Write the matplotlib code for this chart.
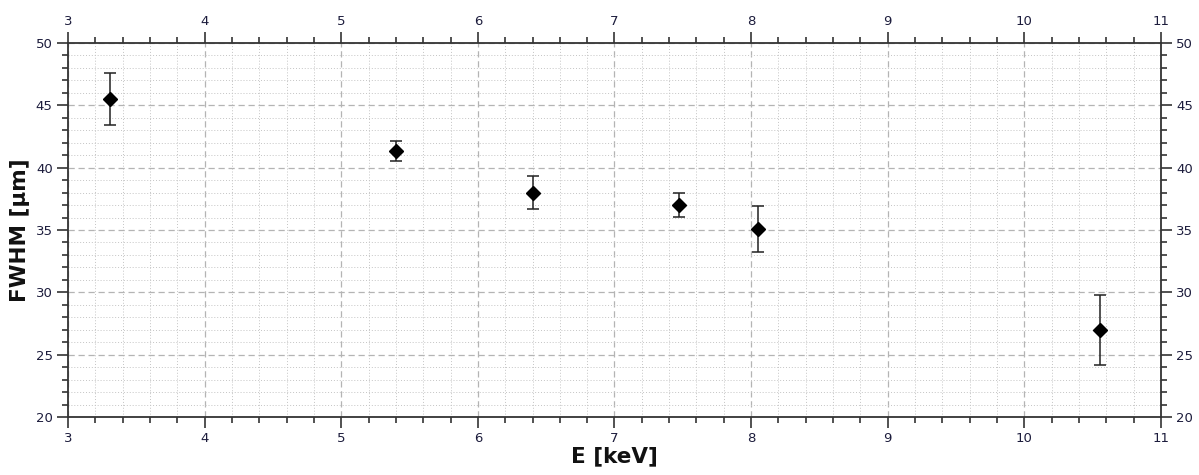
import matplotlib.pyplot as plt
from matplotlib.ticker import MultipleLocator

# measured lines: energy [keV] vs FWHM [um]
energy = [3.31, 5.40, 6.40, 7.47, 8.05, 10.55]
fwhm = [45.5, 41.3, 38.0, 37.0, 35.1, 27.0]
fwhm_err = [2.1, 0.8, 1.35, 0.95, 1.85, 2.8]

INK, TICKC, GRID = "#111111", "#1c1c3c", "#b4b4b4"

fig = plt.figure(figsize=(11.99, 4.75), dpi=100)
ax = fig.add_axes([0.0567, 0.1221, 0.9116, 0.7874])

ax.errorbar(energy, fwhm, yerr=fwhm_err, fmt="D", color="black", ms=7,
            ecolor="#222222", elinewidth=1.1, capsize=4, capthick=1.1, zorder=5)

ax.set_xlim(3, 11)
ax.set_ylim(20, 50)
ax.xaxis.set_major_locator(MultipleLocator(1))
ax.xaxis.set_minor_locator(MultipleLocator(0.2))
ax.yaxis.set_major_locator(MultipleLocator(5))
ax.yaxis.set_minor_locator(MultipleLocator(1))

ax.grid(which="major", ls=(0, (5, 3)), color=GRID, lw=0.9)
ax.grid(which="minor", ls=(0, (1, 2)), color="#c4c4c4", lw=0.7)
ax.set_axisbelow(True)

ax.tick_params(which="both", direction="out", top=True, right=True,
               labeltop=True, labelright=True, color="#333333", width=1.2,
               labelsize=9.5, labelcolor=TICKC)
ax.tick_params(which="major", length=8, pad=3)
ax.tick_params(which="minor", length=4.5)
for s in ax.spines.values():
    s.set_linewidth(1.3)
    s.set_color("#333333")

ax.set_xlabel("E [keV]", fontsize=15.5, fontweight="bold", color=INK, labelpad=1)
ax.set_ylabel("FWHM [µm]", fontsize=15.5, fontweight="bold", color=INK, labelpad=4)

fig.savefig("out.png", dpi=100)
